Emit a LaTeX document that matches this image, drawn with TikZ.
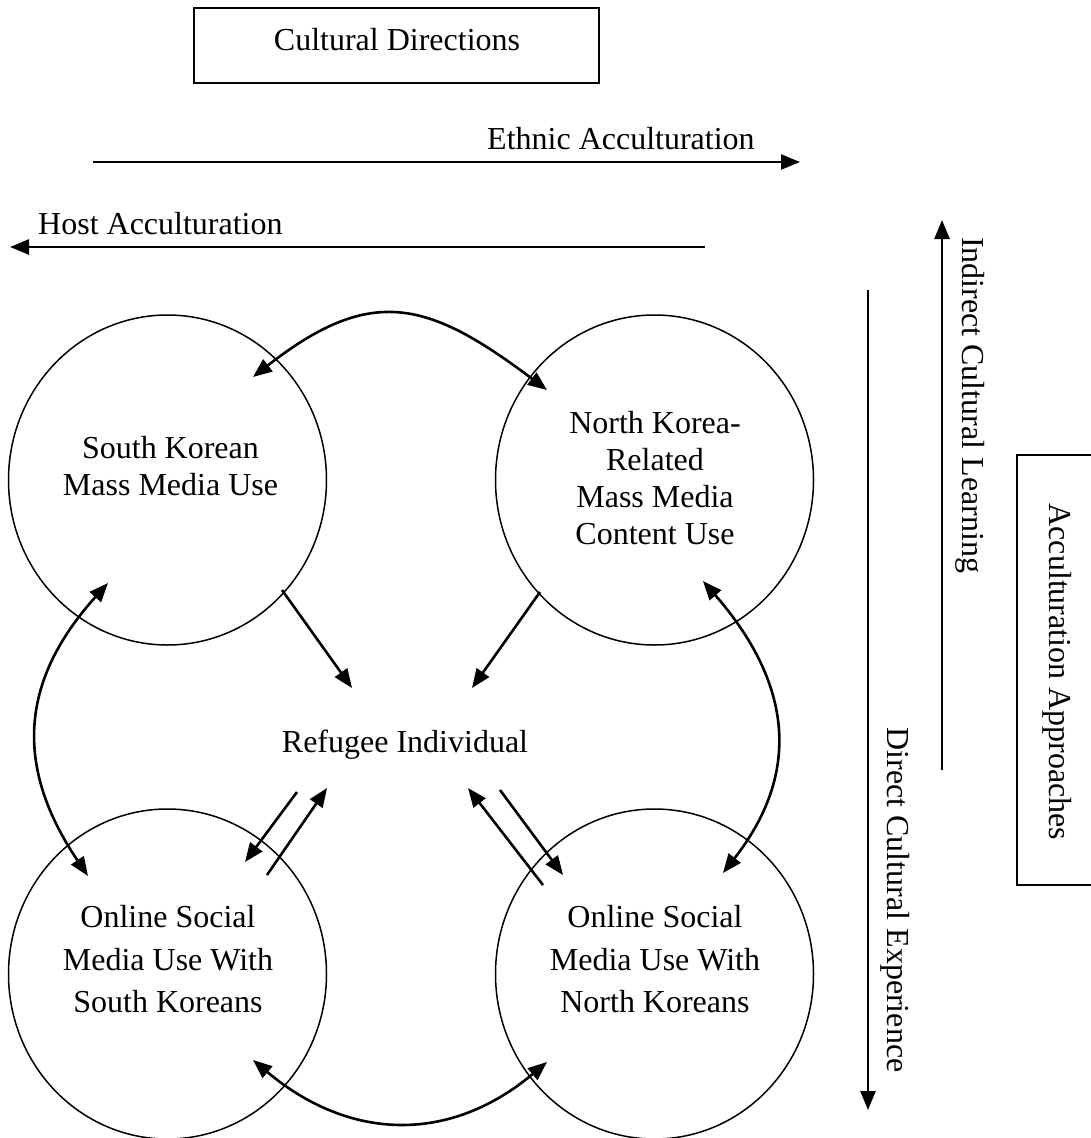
\documentclass[tikz,border=0pt]{standalone}
\usepackage{fontspec}
\setmainfont{Liberation Serif}
\usetikzlibrary{arrows.meta,shapes.geometric}
\begin{document}
\begin{tikzpicture}[x=1pt,y=1pt,
  every node/.style={font=\fontsize{32}{37}\selectfont, inner sep=0pt},
  oval/.style={draw, ellipse, line width=1.5pt, minimum width=318pt, minimum height=330pt},
  frame/.style={draw, line width=1.5pt},
  arrowline/.style={line width=2.6pt, >={Triangle[length=19pt,width=15pt]}},
  lbl/.style={align=center}
]
\useasboundingbox (0,0) rectangle (1091,-1138);

% header box
\node[frame, minimum width=405pt, minimum height=75pt] (cd) at (396.5,-45.5) {};
\node[anchor=base] (cdt) at (397,-50) {Cultural Directions};

% horizontal direction arrows
\node[anchor=base west] (etht) at (487,-149) {Ethnic Acculturation};
\coordinate (e1) at (93,-162);
\coordinate (e2) at (800,-162);
\draw[arrowline,->] (e1) -- (e2);
\node[anchor=base west] (hostt) at (38,-234) {Host Acculturation};
\coordinate (h1) at (705,-247);
\coordinate (h2) at (10,-247);
\draw[arrowline,->] (h1) -- (h2);

% vertical arrows
\coordinate (i1) at (942,-770);
\coordinate (i2) at (942,-220);
\draw[arrowline,->] (i1) -- (i2);
\node[rotate=-90] (indt) at (970,-405) {Indirect Cultural Learning};
\coordinate (d1) at (868,-290);
\coordinate (d2) at (868,-1110);
\draw[arrowline,->] (d1) -- (d2);
\node[rotate=-90] (dirt) at (895,-900) {Direct Cultural Experience};

% approaches box
\node[frame, minimum width=110pt, minimum height=430pt] (aab) at (1072,-670) {};
\node[rotate=-90] (aabt) at (1057,-672) {Acculturation Approaches};

% circles
\node[oval] (sk) at (167.5,-480) {};
\node[oval] (nk) at (654.5,-480) {};
\node[oval] (oss) at (167.5,-974) {};
\node[oval] (osn) at (654.5,-974) {};

\node[lbl] (skt) at (170.5,-466.5) {South Korean\\Mass Media Use};
\node[lbl] (nkt) at (655,-478) {North Korea-\\Related\\Mass Media\\Content Use};
\node[lbl, font=\fontsize{32}{42.5}\selectfont] (osst) at (168,-959.5) {Online Social\\Media Use With\\South Koreans};
\node[lbl, font=\fontsize{32}{42.5}\selectfont] (osnt) at (655,-959.5) {Online Social\\Media Use With\\North Koreans};

\node[anchor=base] (ri) at (405,-752) {Refugee Individual};

% curved double arrows between circles
\coordinate (ct1) at (253,-377);
\coordinate (ct2) at (547,-390);
\draw[arrowline,<->] (ct1) to[out=38,in=143,looseness=1.3] (ct2);
\coordinate (cl1) at (108,-583);
\coordinate (cl2) at (88,-876);
\draw[arrowline,<->] (cl1) to[out=-132,in=124,looseness=1.15] (cl2);
\coordinate (cr1) at (703,-581);
\coordinate (cr2) at (723,-873);
\draw[arrowline,<->] (cr1) to[out=-49,in=52,looseness=1.15] (cr2);
\coordinate (cb1) at (253,-1060);
\coordinate (cb2) at (547,-1062);
\draw[arrowline,<->] (cb1) to[out=-40,in=-140,looseness=1.1] (cb2);

% straight arrows to and from the individual
\coordinate (s1) at (282,-590);
\coordinate (s2) at (352,-688);
\draw[arrowline,->] (s1) -- (s2);
\coordinate (n1) at (540,-592);
\coordinate (n2) at (472,-688);
\draw[arrowline,->] (n1) -- (n2);
\coordinate (a1) at (297,-792);
\coordinate (a2) at (245,-862);
\draw[arrowline,->] (a1) -- (a2);
\coordinate (b1) at (267,-875);
\coordinate (b2) at (327,-788);
\draw[arrowline,->] (b1) -- (b2);
\coordinate (c1) at (543,-885);
\coordinate (c2) at (468,-788);
\draw[arrowline,->] (c1) -- (c2);
\coordinate (f1) at (500,-790);
\coordinate (f2) at (563,-875);
\draw[arrowline,->] (f1) -- (f2);
\end{tikzpicture}
\end{document}
